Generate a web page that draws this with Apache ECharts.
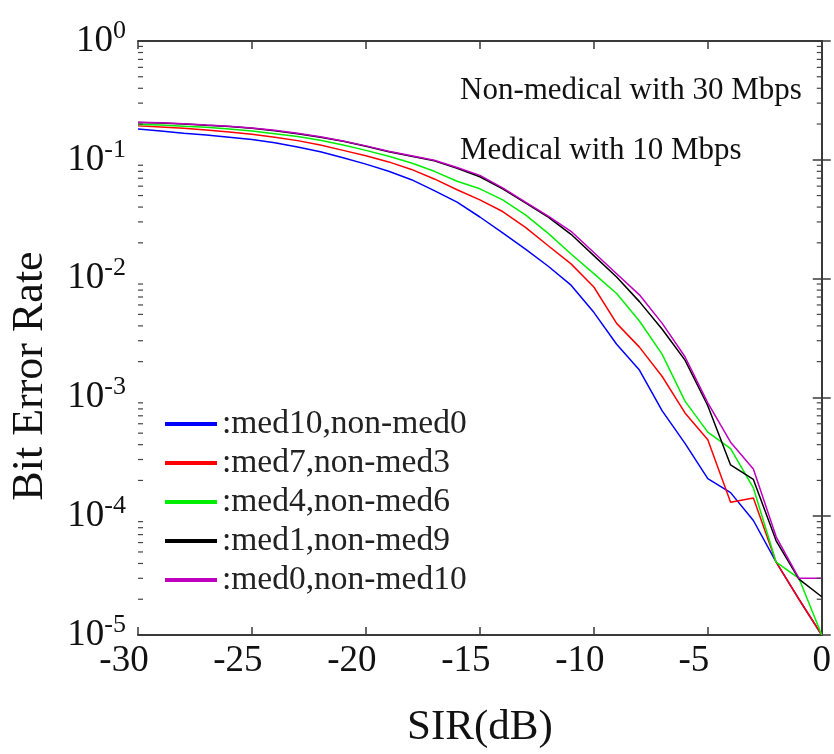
<!DOCTYPE html>
<html>
<head>
<meta charset="utf-8">
<script src="https://cdn.jsdelivr.net/npm/echarts@6/dist/echarts.min.js"></script>
<style>html,body{margin:0;padding:0;background:#fff;}#c{width:834px;height:754px;}</style>
</head>
<body>
<div id="c"></div>
<script>
// SIR (dB)
const sir = [-30,-29,-28,-27,-26,-25,-24,-23,-22,-21,-20,-19,-18,-17,-16,-15,-14,-13,-12,-11,-10,-9,-8,-7,-6,-5,-4,-3,-2,-1,0];
const seriesNames = ['med10,non-med0','med7,non-med3','med4,non-med6','med1,non-med9','med0,non-med10'];
const med10 = [0.182,0.175,0.167,0.162,0.155,0.148,0.139,0.128,0.117,0.104,0.092,0.080,0.068,0.055,0.044,0.033,
  0.0243,0.0177,0.0127,0.0088,0.0052,0.0028,0.0017,0.00077,0.00041,0.000207,0.000158,0.000092,0.000041,0.00002,0.00001];
const med7 = [0.193,0.189,0.184,0.178,0.171,0.164,0.155,0.145,0.133,0.120,0.108,0.096,0.083,0.069,0.056,0.046,
  0.0367,0.027,0.0189,0.0133,0.0085,0.0042,0.00265,0.0015,0.00074,0.00044,0.000131,0.000142,0.000041,0.00002,0.00001];
const med4 = [0.198,0.196,0.192,0.188,0.182,0.175,0.166,0.157,0.146,0.133,0.120,0.107,0.094,0.080,0.066,0.057,
  0.046,0.0344,0.024,0.0161,0.011,0.0075,0.0044,0.0023,0.00093,0.00051,0.00037,0.000173,0.000041,0.00003,0.00001];
const med1 = [0.206,0.204,0.200,0.195,0.191,0.184,0.176,0.166,0.155,0.143,0.130,0.117,0.107,0.098,0.085,0.072,
  0.057,0.0435,0.0329,0.0236,0.0156,0.0103,0.0064,0.00375,0.00206,0.00085,0.00027,0.000204,0.000062,0.0000295,0.000021];
const med0 = [0.207,0.205,0.201,0.196,0.192,0.185,0.177,0.167,0.156,0.144,0.131,0.118,0.108,0.099,0.086,0.074,
  0.058,0.044,0.0335,0.025,0.0166,0.011,0.0073,0.0042,0.0022,0.0009,0.00042,0.00025,0.000067,0.00003,0.00003];
const colors = ['#0000ff','#ff0000','#00ee00','#000000','#bf00bf'];
const annotations = ['Non-medical with 30 Mbps','Medical with 10 Mbps'];
// log-axis minor tick values (2..9 x 10^k)
const minorTickValues = [];
for (let k = -5; k < 0; k++) for (let m = 2; m <= 9; m++) minorTickValues.push(+(m * Math.pow(10, k)).toPrecision(3));

const FONT = '"Liberation Serif","Times New Roman",serif';
const allData = [med10, med7, med4, med1, med0];
const chart = echarts.init(document.getElementById('c'));

const lineSeries = allData.map((arr, i) => ({
  name: seriesNames[i], type: 'line', data: sir.map((x, j) => [x, arr[j]]),
  showSymbol: false, symbol: 'none', lineStyle: {width: 1.5, color: colors[i]}, itemStyle: {color: colors[i]},
  z: 3 + i, animation: false
}));

const tickSeries = {
  type: 'custom', silent: true, animation: false, z: 10, clip: false,
  data: minorTickValues.map(v => [-30, v]),
  renderItem: function (params, api) {
    const v = api.value(1);
    const pl = api.coord([-30, v]);
    const pr = api.coord([0, v]);
    return {type: 'group', children: [
      {type: 'line', shape: {x1: pl[0], y1: pl[1], x2: pl[0] + 5, y2: pl[1]}, style: {stroke: '#444', lineWidth: 1.2}},
      {type: 'line', shape: {x1: pr[0], y1: pr[1], x2: pr[0] - 5, y2: pr[1]}, style: {stroke: '#444', lineWidth: 1.2}}
    ]};
  }
};

const axisLineStyle = {lineStyle: {color: '#3a3a3a', width: 2}};
chart.setOption({
  backgroundColor: '#fff',
  animation: false,
  grid: {left: 138, right: 11, top: 41, bottom: 107, containLabel: false},
  legend: {
    orient: 'vertical', left: 160, top: 400, itemWidth: 52, itemHeight: 4, itemGap: 1, icon: 'rect',
    data: seriesNames,
    formatter: n => ':' + n,
    textStyle: {fontFamily: FONT, fontSize: 33.5, color: '#222', lineHeight: 26, padding: [12, 0, 0, 0]}
  },
  xAxis: [{
    type: 'value', min: -30, max: 0, interval: 5, position: 'bottom',
    name: 'SIR(dB)', nameLocation: 'middle', nameGap: 71,
    nameTextStyle: {fontFamily: FONT, fontSize: 43, color: '#111'},
    axisLine: axisLineStyle, axisTick: {inside: true, length: 8, lineStyle: {color: '#3a3a3a', width: 1.5}},
    splitLine: {show: false},
    axisLabel: {margin: 8, formatter: v => v < 0 ? '{n|' + v + '}' : '{z|' + v + '}',
      rich: {n: {fontFamily: FONT, fontSize: 37, color: '#111', padding: [0, 28, 0, 0]}, z: {fontFamily: FONT, fontSize: 37, color: '#111'}}}
  }, {
    type: 'value', min: -30, max: 0, interval: 5, position: 'top',
    axisLine: axisLineStyle, axisTick: {inside: true, length: 8, lineStyle: {color: '#3a3a3a', width: 1.5}},
    axisLabel: {show: false}, splitLine: {show: false}
  }],
  yAxis: [{
    type: 'log', logBase: 10, min: 1e-5, max: 1, splitNumber: 5, position: 'left',
    name: 'Bit Error Rate', nameLocation: 'middle', nameGap: 86, nameRotate: 90,
    nameTextStyle: {fontFamily: FONT, fontSize: 44, color: '#111', padding: [0, 76, 0, 0]},
    axisLine: axisLineStyle, axisTick: {inside: true, length: 9, lineStyle: {color: '#3a3a3a', width: 1.5}},
    splitLine: {show: false}, minorTick: {show: false},
    axisLabel: {margin: 12, formatter: v => '{b|10}{s|' + Math.round(Math.log10(v)) + '}',
      rich: {b: {fontFamily: FONT, fontSize: 37, color: '#111'}, s: {fontFamily: FONT, fontSize: 26, color: '#111', padding: [0, 0, 20, 0]}}}
  }, {
    type: 'log', logBase: 10, min: 1e-5, max: 1, splitNumber: 5, position: 'right',
    axisLine: axisLineStyle, axisTick: {inside: true, length: 9, lineStyle: {color: '#3a3a3a', width: 1.5}},
    axisLabel: {show: false}, splitLine: {show: false}
  }],
  graphic: [
    {type: 'text', left: 460, top: 75, style: {text: annotations[0], font: '31px ' + FONT, fill: '#111'}},
    {type: 'text', left: 460, top: 135, style: {text: annotations[1], font: '31px ' + FONT, fill: '#111'}}
  ],
  series: lineSeries.concat([tickSeries])
});
</script>
</body>
</html>
